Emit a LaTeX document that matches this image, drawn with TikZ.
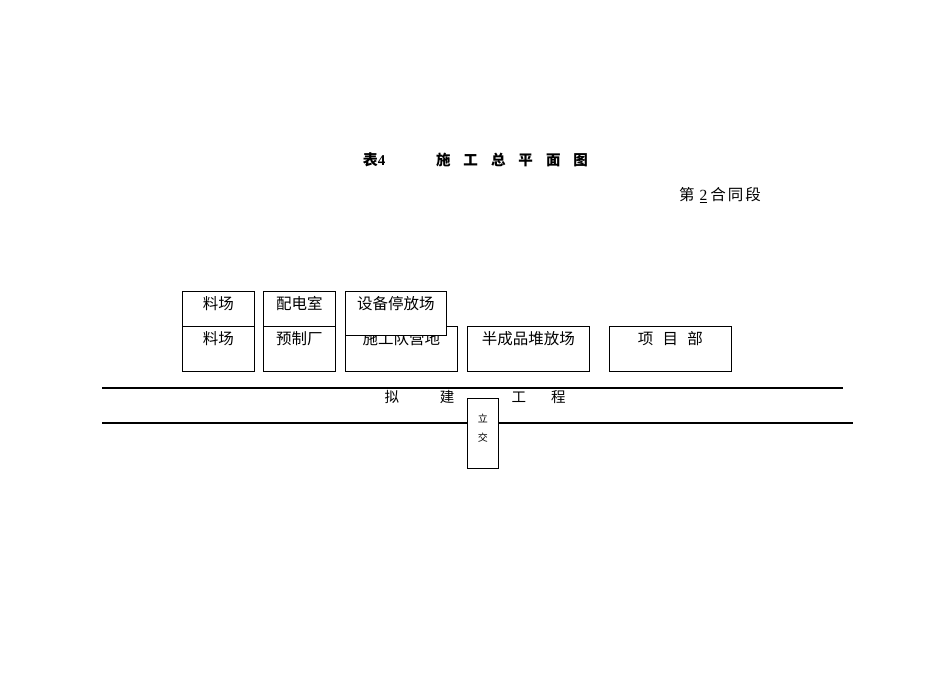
\documentclass[tikz,border=0pt]{standalone}
\usepackage{fontspec}
\setmainfont{Noto Sans CJK SC}
\newfontfamily\latinfont{Liberation Serif}
\usetikzlibrary{positioning}

\begin{document}
\begin{tikzpicture}[x = 1pt, y = 1pt, font=\fontsize{15.5}{17}\selectfont]
\tikzstyle{boxStyle}=[draw, fill=white, line width=0.8pt, inner sep=0pt, anchor=north west]
\tikzstyle{labelStyle}=[anchor=north, inner sep=0pt, yshift=-5pt]
\tikzstyle{roadStyle}=[line width=2.4pt]
\useasboundingbox (0,0) rectangle (950,-672);
% title
\node[font=\fontsize{15}{17}\selectfont\bfseries] (tabno) at (374,-160) {表{\latinfont 4}};
\node[font=\fontsize{14.5}{17}\selectfont\bfseries] (title) at (512,-160) {施\hspace{13pt}工\hspace{13pt}总\hspace{13pt}平\hspace{13pt}面\hspace{13pt}图};
\node (section) at (720,-195) {第\hspace{5pt}{\latinfont\underline{2}}\hspace{3pt}合\hspace{2pt}同\hspace{2pt}段};
% lower row
\node[boxStyle, minimum width=72pt, minimum height=45pt, label={[labelStyle]north:料场}] (yardB) at (182,-326) {};
\node[boxStyle, minimum width=72pt, minimum height=45pt, label={[labelStyle]north:预制厂}] (precast) at (263,-326) {};
\node[boxStyle, minimum width=112pt, minimum height=45pt, label={[labelStyle]north:施工队营地}] (camp) at (345,-326) {};
\node[boxStyle, minimum width=122pt, minimum height=45pt, label={[labelStyle]north:半成品堆放场}] (semi) at (467,-326) {};
\node[boxStyle, minimum width=122pt, minimum height=45pt, label={[labelStyle]north:项\hspace{0.6em}目\hspace{0.6em}部}] (office) at (609,-326) {};
% upper row
\node[boxStyle, minimum width=72pt, minimum height=35pt, label={[labelStyle]north:料场}] (yardA) at (182,-291) {};
\node[boxStyle, minimum width=72pt, minimum height=35pt, label={[labelStyle]north:配电室}] (power) at (263,-291) {};
\node[boxStyle, minimum width=101pt, minimum height=44pt, label={[labelStyle]north:设备停放场}] (depot) at (345,-291) {};
% road
\draw[roadStyle] (102,-388) -- (843,-388);
\draw[roadStyle] (102,-423) -- (853,-423);
\node[font=\fontsize{14.5}{16}\selectfont] (road) at (475,-397) {拟\hspace{41pt}建\hspace{57pt}工\hspace{25pt}程};
\node[boxStyle, minimum width=31pt, minimum height=70pt] (cross) at (467,-398) {};
\node[font=\fontsize{10}{12}\selectfont] (crossA) at (cross.center |- 0,-418) {立};
\node[font=\fontsize{10}{12}\selectfont] (crossB) at (cross.center |- 0,-438) {交};
\end{tikzpicture}
\end{document}
